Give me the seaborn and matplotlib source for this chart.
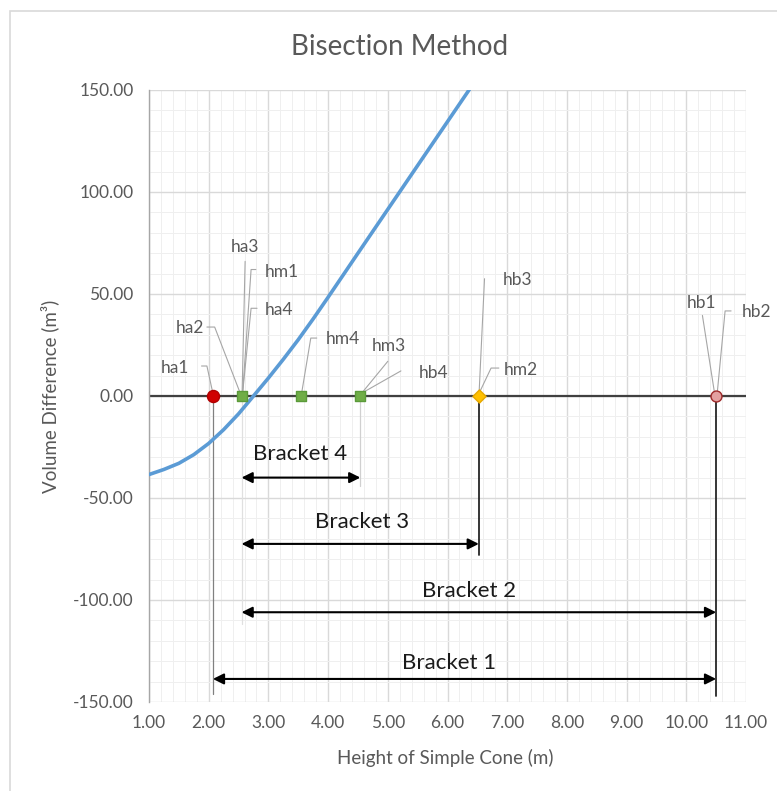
import numpy as np
import pandas as pd
import matplotlib
matplotlib.use("Agg")
import matplotlib.pyplot as plt
import seaborn as sns
from matplotlib.patches import Rectangle
from matplotlib.ticker import MultipleLocator, FormatStrFormatter

# ---------------- data ----------------
height = [1.0, 1.25, 1.5, 1.75, 2.0, 2.25, 2.5, 2.75, 3.0, 3.25, 3.5, 3.75, 4.0, 4.5, 5.0, 5.5, 6.0, 6.5]
vol_diff = [-38.5, -36.0, -33.0, -28.75, -23.25, -16.5, -8.75, 0.0, 8.8, 18.0, 27.6, 37.8, 48.4, 70.0, 91.5, 113.0, 134.5, 156.0]

# bisection points (all on the zero line)
pt_h = [2.07, 2.55, 3.54, 4.54, 6.525, 10.5]
pt_v = [0, 0, 0, 0, 0, 0]
pt_group = ["start a", "a", "m", "m", "m2", "b"]

# labels for the points
label_names = ["ha1", "ha2", "ha3", "hm1", "ha4", "hm4", "hm3", "hb4", "hb3", "hm2", "hb1", "hb2"]

# brackets
bracket_names = ["Bracket 1", "Bracket 2", "Bracket 3", "Bracket 4"]
bracket_lo = [2.07, 2.55, 2.55, 2.55]
bracket_hi = [10.5, 10.5, 6.525, 4.54]

x_ticks = [1, 2, 3, 4, 5, 6, 7, 8, 9, 10, 11]
y_ticks = [-150, -100, -50, 0, 50, 100, 150]

# ---------------- style ----------------
sns.set_theme(style="white")
plt.rcParams["font.family"] = ["Lato", "DejaVu Sans"]

W, H = 777, 791
fig = plt.figure(figsize=(W / 100, H / 100), dpi=100)
ax = fig.add_axes([149 / W, 1 - 702 / H, (746 - 149) / W, (702 - 90) / H])

ax.set_xlim(1, 11)
ax.set_ylim(-150, 150)
ax.xaxis.set_minor_locator(MultipleLocator(0.2))
ax.yaxis.set_minor_locator(MultipleLocator(10))
ax.set_xticks(x_ticks)
ax.set_yticks(y_ticks)
ax.xaxis.set_major_formatter(FormatStrFormatter("%.2f"))
ax.yaxis.set_major_formatter(FormatStrFormatter("%.2f"))
ax.grid(which="major", color="#D9D9D9", lw=1.0)
ax.grid(which="minor", color="#EFEFEF", lw=0.7)
ax.set_axisbelow(True)
for s in ["top", "right", "bottom"]:
    ax.spines[s].set_visible(False)
ax.spines["left"].set_color("#A6A6A6")
ax.spines["left"].set_linewidth(1.0)
ax.tick_params(axis="both", which="both", length=0, labelsize=12.5, labelcolor="#595959")
ax.tick_params(axis="y", pad=11)
ax.tick_params(axis="x", pad=9)

# zero axis line
ax.axhline(0, color="#404040", lw=1.6, zorder=2)

# drop lines
ax.plot([2.07, 2.07], [0, -146], color="#808080", lw=0.9, zorder=2)
ax.plot([10.5, 10.5], [0, -147], color="#262626", lw=1.3, zorder=2)
ax.plot([6.525, 6.525], [0, -78], color="#262626", lw=1.3, zorder=2)
ax.plot([4.54, 4.54], [0, -44], color="#D0D0D0", lw=0.9, zorder=2)
ax.plot([2.55, 2.55], [0, -112], color="#E0E0E0", lw=0.9, zorder=2)

# curve
df = pd.DataFrame({"h": height, "v": vol_diff})
sns.lineplot(data=df, x="h", y="v", ax=ax, color="#5B9BD5", lw=2.6, zorder=3, sort=True)

# points
pts = pd.DataFrame({"h": pt_h, "v": pt_v, "g": pt_group})
styles = {
    "start a": dict(marker="o", color="#D00000", edgecolor="#B00000", s=75),
    "a": dict(marker="s", color="#70AD47", edgecolor="#5B9A3A", s=62),
    "m": dict(marker="s", color="#70AD47", edgecolor="#5B9A3A", s=62),
    "m2": dict(marker="D", color="#FFC000", edgecolor="#E6A800", s=45),
    "b": dict(marker="o", color="#E3A0A0", edgecolor="#9E2A2A", s=62),
}
for g, st in styles.items():
    sub = pts[pts["g"] == g]
    sns.scatterplot(data=sub, x="h", y="v", ax=ax, marker=st["marker"], color=st["color"],
                    edgecolor=st["edgecolor"], linewidth=1.0, s=st["s"], zorder=5, legend=False)

# point labels with leader lines: (text x, text y, leader polyline)
label_layout = [
    (1.44, 13.7, [(1.88, 14.7), (1.97, 14.7), (2.065, 2.0)]),
    (1.69, 33.3, [(1.97, 33.8), (2.10, 33.8), (2.52, 2.0)]),
    (2.61, 73.0, [(2.61, 66.0), (2.56, 2.0)]),
    (3.23, 61.0, [(2.79, 62.0), (2.71, 62.0), (2.57, 2.0)]),
    (3.18, 42.4, [(2.81, 43.0), (2.71, 43.0), (2.57, 2.0)]),
    (4.24, 27.8, [(3.81, 28.4), (3.71, 28.4), (3.56, 2.0)]),
    (5.02, 24.5, [(5.00, 17.0), (4.58, 2.0)]),
    (5.76, 11.5, [(5.22, 12.3), (4.60, 2.0)]),
    (7.17, 57.0, [(6.62, 57.5), (6.53, 2.0)]),
    (7.23, 12.7, [(6.86, 13.7), (6.73, 13.7), (6.54, 2.0)]),
    (10.26, 45.5, [(10.27, 39.5), (10.47, 2.0)]),
    (11.17, 41.0, [(10.75, 41.7), (10.65, 41.7), (10.52, 2.0)]),
]
for name, (tx, ty, line) in zip(label_names, label_layout):
    xs, ys = zip(*line)
    ax.plot(xs, ys, color="#A6A6A6", lw=0.8, zorder=4, clip_on=False)
    ax.text(tx, ty, name, ha="center", va="center", fontsize=12.5, color="#595959",
            zorder=6, clip_on=False)

# brackets
bracket_y = [-138.7, -106.0, -72.5, -40.0]
bracket_text = [(6.03, -131.0), (6.36, -95.6), (4.57, -62.0), (3.53, -28.4)]
for name, lo, hi, by, (tx, ty) in zip(bracket_names, bracket_lo, bracket_hi, bracket_y, bracket_text):
    ax.annotate("", xy=(hi, by), xytext=(lo, by),
                arrowprops=dict(arrowstyle="<|-|>", color="black", lw=1.5,
                                mutation_scale=16, shrinkA=0, shrinkB=0), zorder=6)
    ax.text(tx, ty, name, ha="center", va="center", fontsize=16, color="#1A1A1A", zorder=6)

ax.set_xlabel("")
ax.set_ylabel("")
fig.text(445 / W, 1 - 758 / H, "Height of Simple Cone (m)", ha="center", va="center",
         fontsize=13.5, color="#595959")
fig.text(50 / W, 1 - 396 / H, "Volume Difference (m³)", ha="center", va="center",
         rotation=90, fontsize=13.5, color="#595959")
fig.text(400 / W, 1 - 47 / H, "Bisection Method", ha="center", va="center",
         fontsize=20, color="#595959")

# chart border
fig.patches.append(Rectangle((10 / W, -0.1), 1.2, 1 - 11 / H + 0.1, transform=fig.transFigure,
                             fill=False, edgecolor="#D9D9D9", lw=1.2))

fig.savefig("out.png", dpi=100, facecolor="white")
